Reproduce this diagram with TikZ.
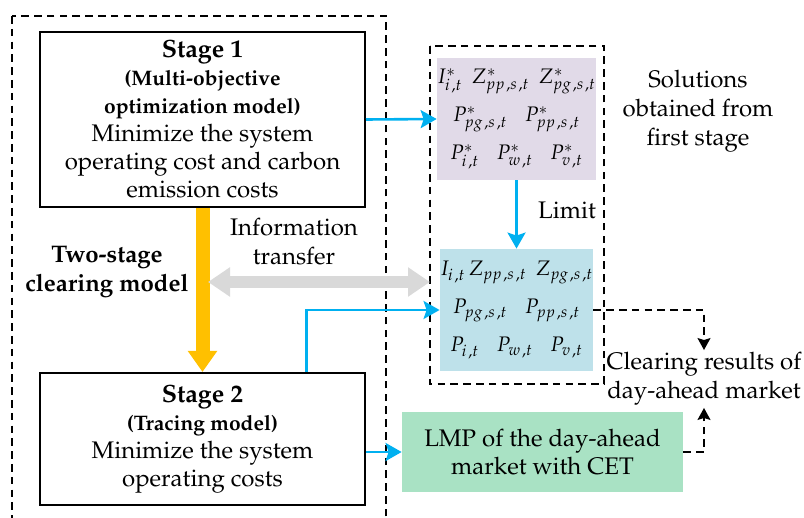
\documentclass[tikz,border=0pt]{standalone}
\usepackage[T1]{fontenc}
\usepackage{mathpazo}
\usepackage{amsmath}
\usetikzlibrary{arrows,arrows.meta,positioning}
\definecolor{flowblue}{HTML}{00B0F0}
\definecolor{floworange}{HTML}{FFC000}
\definecolor{infogray}{HTML}{D9D9D9}
\definecolor{solpurple}{HTML}{E1DAE8}
\definecolor{solblue}{HTML}{BEE1EA}
\definecolor{lmpgreen}{HTML}{A9E2C4}
\tikzset{
    %Define style for boxes
    stagebox/.style={
           rectangle,
           draw=black, line width=1pt,
           minimum width=162.5pt,
           inner sep=0pt,
           font=\fontsize{12}{14}\selectfont,
           align=center,
           },
    solbox/.style={
           rectangle,
           minimum width=74.5pt,
           minimum height=61pt,
           inner sep=0pt,
           font=\fontsize{10.5}{19}\selectfont,
           align=center,
           },
    lmpbox/.style={
           rectangle,
           fill=lmpgreen,
           minimum width=140.5pt,
           minimum height=40pt,
           inner sep=0pt,
           font=\fontsize{12}{14}\selectfont,
           align=center,
           },
    plain/.style={
           inner sep=1pt,
           font=\fontsize{12}{14.5}\selectfont,
           align=center,
           },
    % Define frame style
    frame/.style={
           draw=black, line width=0.8pt,
           dash pattern=on 3.8pt off 2.6pt,
           },
    % Define arrow styles
    bluearrow/.style={
           -{Stealth[width=9pt,length=8pt,inset=1.5pt]},
           draw=flowblue, line width=1.3pt,
           },
    resarrow/.style={
           -{Stealth[width=6.5pt,length=6pt,inset=1pt]},
           draw=black, line width=0.75pt,
           dash pattern=on 3.8pt off 2.6pt,
           },
    flowarrow/.style={
           -{Triangle[width=14pt,length=10.5pt]},
           draw=floworange, line width=7pt,
           },
    infoarrow/.style={
           {Triangle[width=14pt,length=11pt]}-{Triangle[width=14pt,length=11pt]},
           draw=infogray, line width=6pt,
           },
}
\newcommand{\subcomma}{\mkern2mu,}

\begin{document}
\begin{tikzpicture}[x=0.5pt,y=-0.5pt]
\useasboundingbox (0,0) rectangle (804,518);
 %frames
\draw[frame] (12,16) rectangle (386,540);
\draw[frame] (430,46) rectangle (604,384);
 %nodes
\node[stagebox, minimum height=87.5pt](s1) at (202.5,119.5){%
  {\fontsize{12.5}{14}\selectfont\bfseries Stage 1}\\
  {\fontsize{10.5}{14}\selectfont\bfseries (Multi-objective}\\
  {\fontsize{10.5}{14}\selectfont\bfseries optimization model)}\\
  Minimize the system\\
  operating cost and carbon\\
  emission costs};
\node[stagebox, minimum height=66pt](s2) at (202.5,439){%
  {\fontsize{12.5}{14}\selectfont\bfseries Stage 2}\\
  {\fontsize{10.5}{14}\selectfont\bfseries (Tracing model)}\\
  Minimize the system\\
  operating costs};
\node[solbox, fill=solpurple](sol) at (516.5,119){%
  $I^{*}_{i\subcomma t}\;\, Z^{*}_{pp\subcomma s\subcomma t}\;\, Z^{*}_{pg\subcomma s\subcomma t}$\\
  $P^{*}_{pg\subcomma s\subcomma t}\;\;\; P^{*}_{pp\subcomma s\subcomma t}$\\
  $P^{*}_{i\subcomma t}\;\;\; P^{*}_{w\subcomma t}\;\;\; P^{*}_{v\subcomma t}$};
\node[solbox, fill=solblue](clr) at (516.5,310){%
  $I_{i\subcomma t}\, Z_{pp\subcomma s\subcomma t}\;\, Z_{pg\subcomma s\subcomma t}$\\
  $P_{pg\subcomma s\subcomma t}\;\;\; P_{pp\subcomma s\subcomma t}$\\
  $P_{i\subcomma t}\;\;\; P_{w\subcomma t}\;\;\; P_{v\subcomma t}$};
\node[lmpbox](lmp) at (542.5,452){LMP of the day-ahead\\market with CET};
\node[plain, font=\fontsize{12}{14.5}\selectfont\bfseries](model) at (107,272){Two-stage\\clearing model};
\node[plain](info) at (294,242){Information\\transfer};
\node[plain](note) at (698,111){Solutions\\obtained from\\first stage};
\node[plain](limit) at (567,210){Limit};
\node[plain](result) at (704,379){Clearing results of\\day-ahead market};
\coordinate (infoL) at (208,282);
\coordinate (infoR) at (430,282);
 %connectors
\draw[flowarrow] (s1.south) -- (s2.north);
\draw[infoarrow] (infoL) -- (infoR);
\draw[bluearrow] (s1.east) -- (sol.west);
\draw[bluearrow] (sol.south) -- (clr.north);
\draw[bluearrow] ([xshift=52pt]s2.north) |- (clr.west);
\draw[bluearrow] (s2.east |- lmp.west) -- (lmp.west);
\draw[resarrow] (clr.east) -| (result.north);
\draw[resarrow] (lmp.east) -| (result.south);
\end{tikzpicture}
\end{document}
